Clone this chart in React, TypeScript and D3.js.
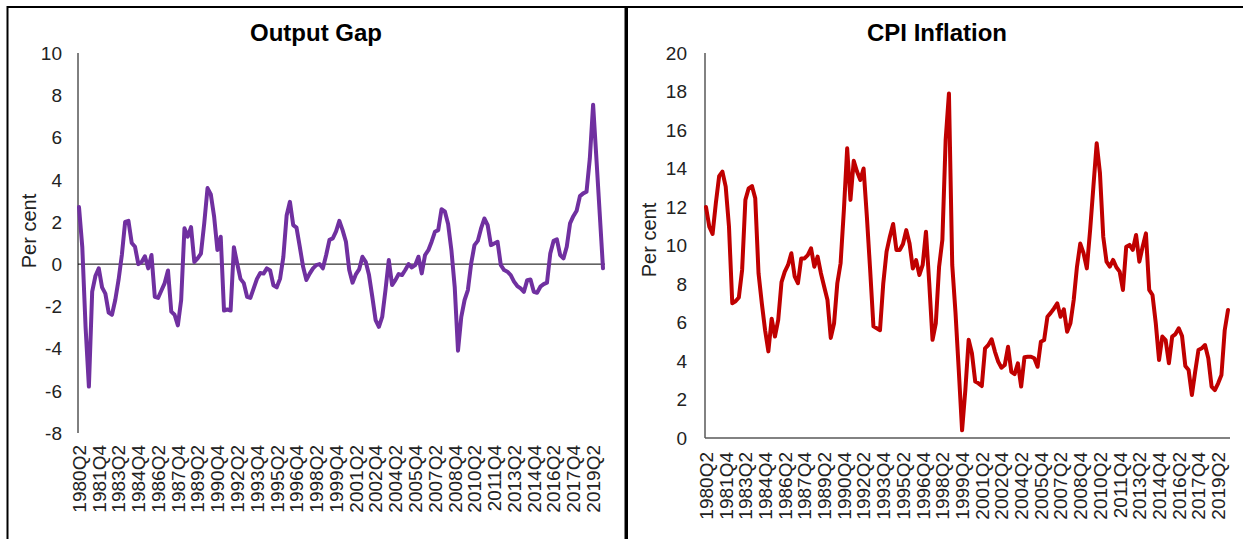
import React from 'react';
import * as d3 from 'd3';

// Quarterly data, 1980Q2 .. 2020Q1
const outputGap = [
  2.7, 0.8, -3.0, -5.8, -1.3, -0.55, -0.2, -1.1, -1.4, -2.3,
  -2.4, -1.7, -0.75, 0.43, 2.0, 2.05, 1.0, 0.82, 0.0, 0.1,
  0.37, -0.2, 0.43, -1.55, -1.6, -1.25, -0.9, -0.3, -2.25, -2.4,
  -2.9, -1.7, 1.7, 1.3, 1.75, 0.1, 0.27, 0.5, 1.93, 3.6,
  3.3, 2.25, 0.67, 1.3, -2.2, -2.15, -2.2, 0.8, 0.03, -0.7,
  -0.9, -1.55, -1.6, -1.15, -0.7, -0.42, -0.45, -0.2, -0.3, -1.0,
  -1.1, -0.7, 0.33, 2.3, 2.95, 1.85, 1.73, 0.82, -0.13, -0.75,
  -0.45, -0.2, -0.05, 0.0, -0.2, 0.43, 1.15, 1.22, 1.55, 2.05,
  1.6, 1.06, -0.28, -0.88, -0.49, -0.25, 0.35, 0.11, -0.52, -1.55,
  -2.65, -2.97, -2.5, -1.23, 0.19, -0.99, -0.76, -0.47, -0.52, -0.28,
  0.0, -0.16, -0.05, 0.35, -0.44, 0.43, 0.66, 1.06, 1.53, 1.61,
  2.6, 2.5, 1.9, 0.66, -1.07, -4.1, -2.5, -1.7, -1.23, 0.03,
  0.9, 1.1, 1.69, 2.16, 1.85, 0.9, 0.98, 1.06, -0.05, -0.28,
  -0.36, -0.52, -0.83, -1.04, -1.15, -1.31, -0.76, -0.73, -1.31, -1.36,
  -1.07, -0.95, -0.88, 0.5, 1.1, 1.17, 0.43, 0.27, 0.82, 1.93,
  2.27, 2.53, 3.22, 3.35, 3.43, 5.0, 7.55, 5.0, 2.4, -0.2,
];

const cpiInflation = [
  12.0, 10.98, 10.6, 12.2, 13.6, 13.84, 13.06, 10.98, 7.0, 7.1,
  7.3, 8.73, 12.37, 12.97, 13.09, 12.45, 8.56, 7.0, 5.6, 4.5,
  6.2, 5.27, 6.14, 8.1, 8.64, 8.99, 9.6, 8.4, 8.04, 9.33,
  9.33, 9.5, 9.85, 8.9, 9.42, 8.56, 7.86, 7.17, 5.2, 5.95,
  8.04, 9.08, 11.85, 15.05, 12.37, 14.4, 13.84, 13.4, 14.0, 11.5,
  8.73, 5.8, 5.7, 5.6, 8.04, 9.68, 10.46, 11.12, 9.77, 9.77,
  10.08, 10.8, 10.1, 8.8, 9.24, 8.47, 8.99, 10.72, 8.04, 5.1,
  5.95, 8.9, 10.3, 15.5, 17.9, 9.0, 6.5, 3.5, 0.4, 2.5,
  5.1, 4.4, 2.93, 2.84, 2.7, 4.66, 4.83, 5.13, 4.49, 3.97,
  3.65, 3.79, 4.74, 3.44, 3.32, 3.88, 2.67, 4.19, 4.22, 4.22,
  4.14, 3.7, 5.0, 5.09, 6.3, 6.5, 6.73, 6.99, 6.3, 6.68,
  5.52, 5.96, 7.17, 8.9, 10.1, 9.6, 8.81, 10.8, 13.06, 15.31,
  13.75, 10.46, 9.16, 8.9, 9.25, 8.87, 8.64, 7.69, 9.94, 10.03,
  9.77, 10.55, 9.16, 9.94, 10.63, 7.69, 7.43, 5.96, 4.05, 5.27,
  5.09, 3.88, 5.27, 5.4, 5.7, 5.3, 3.74, 3.53, 2.23, 3.44,
  4.57, 4.66, 4.83, 4.14, 2.67, 2.49, 2.84, 3.27, 5.6, 6.65,
];

// every 6th quarter gets a label
const tickLabels = [
  '1980Q2', '1981Q4', '1983Q2', '1984Q4', '1986Q2', '1987Q4', '1989Q2',
  '1990Q4', '1992Q2', '1993Q4', '1995Q2', '1996Q4', '1998Q2', '1999Q4',
  '2001Q2', '2002Q4', '2004Q2', '2005Q4', '2007Q2', '2008Q4', '2010Q2',
  '2011Q4', '2013Q2', '2014Q4', '2016Q2', '2017Q4', '2019Q2',
];
const tickStep = 6;

const gapTicks = [-8, -6, -4, -2, 0, 2, 4, 6, 8, 10];
const cpiTicks = [0, 2, 4, 6, 8, 10, 12, 14, 16, 18, 20];

const FONT = "'Liberation Sans', Arial, sans-serif";

interface PanelProps {
  title: string;
  titleX: number;
  values: number[];
  color: string;
  xRange: [number, number];
  yDomain: [number, number];
  yRange: [number, number];
  yTicks: number[];
  tickRight: number;
  labelTop: number;
  perCentX: number;
  perCentY: number;
  axisColor: string;
  baseline: number;
  bottomAxis: boolean;
}

const Panel: React.FC<PanelProps> = (p) => {
  const x = d3.scaleLinear().domain([0, p.values.length - 1]).range(p.xRange);
  const y = d3.scaleLinear().domain(p.yDomain).range(p.yRange);
  const line = d3.line<number>()
    .x((_, i) => x(i))
    .y(d => y(d));

  return (
    <g>
      <text x={p.titleX} y={41} textAnchor="middle" fontFamily={FONT}
        fontSize={24} fontWeight="bold" fill="#000">{p.title}</text>

      {/* y axis */}
      <line x1={p.xRange[0] - 1} x2={p.xRange[0] - 1} y1={p.yRange[1]} y2={p.yRange[0]}
        stroke={p.axisColor} strokeWidth={p.bottomAxis ? 1.5 : 1} />
      {p.yTicks.map(t => (
        <text key={t} x={p.tickRight} y={y(t)} dy="0.36em" textAnchor="end"
          fontFamily={FONT} fontSize={19} fill="#222">{t}</text>
      ))}
      <text transform={`translate(${p.perCentX},${p.perCentY}) rotate(-90)`}
        textAnchor="middle" dy="0.36em" fontFamily={FONT} fontSize={20} fill="#222">Per cent</text>

      {/* horizontal reference line */}
      <line x1={p.xRange[0] - 1} x2={p.xRange[1] + 2} y1={y(p.baseline)} y2={y(p.baseline)}
        stroke={p.axisColor} strokeWidth={p.bottomAxis ? 1.5 : 1} />

      {tickLabels.map((lab, k) => (
        <text key={lab} transform={`translate(${x(k * tickStep)},${p.labelTop}) rotate(-90)`}
          textAnchor="end" dy="0.36em" fontFamily={FONT} fontSize={19} fill="#222">{lab}</text>
      ))}

      <path d={line(p.values) || ''} fill="none" stroke={p.color} strokeWidth={4}
        strokeLinejoin="round" strokeLinecap="round" />
    </g>
  );
};

const App: React.FC = () => {
  return (
    <div style={{ position: 'absolute', left: 0, top: 0 }}>
      <svg width={1243} height={539} style={{ display: 'block', background: '#fff' }}>
        {/* panel frames */}
        <rect x={7.5} y={7} width={618} height={560} fill="none" stroke="#000" strokeWidth={2} />
        <rect x={627} y={7} width={640} height={560} fill="none" stroke="#000" strokeWidth={2} />

        <Panel
          title="Output Gap" titleX={316}
          values={outputGap} color="#7030A0"
          xRange={[79, 603]} yDomain={[-8, 10]} yRange={[433, 53]}
          yTicks={gapTicks} tickRight={62} labelTop={445}
          perCentX={29} perCentY={231} axisColor="#000" baseline={0}
          bottomAxis={false}
        />
        <Panel
          title="CPI Inflation" titleX={937}
          values={cpiInflation} color="#C00000"
          xRange={[706, 1228]} yDomain={[0, 20]} yRange={[438, 53]}
          yTicks={cpiTicks} tickRight={687} labelTop={452}
          perCentX={649} perCentY={240} axisColor="#595959" baseline={0}
          bottomAxis={true}
        />
      </svg>
    </div>
  );
};

export default App;
